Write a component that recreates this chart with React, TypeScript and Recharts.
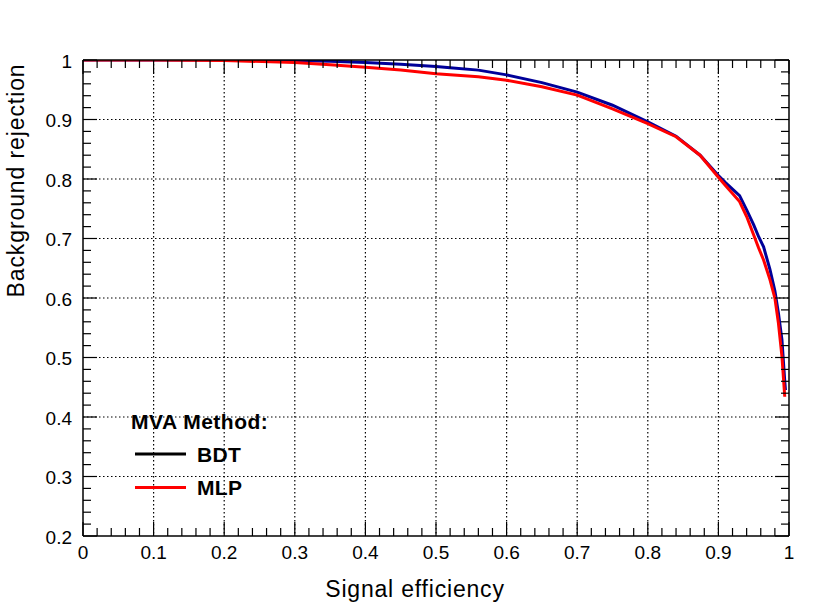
import React from "react";
import { LineChart, Line, XAxis, YAxis, CartesianGrid } from "recharts";

const W = 830;
const H = 609;
const FONT = "'Liberation Sans', Arial, Helvetica, sans-serif";

// Major tick values / labels
const xMajor = [0, 0.1, 0.2, 0.3, 0.4, 0.5, 0.6, 0.7, 0.8, 0.9, 1];
const yMajor = [0.2, 0.3, 0.4, 0.5, 0.6, 0.7, 0.8, 0.9, 1];
const xTickLabels = ["0", "0.1", "0.2", "0.3", "0.4", "0.5", "0.6", "0.7", "0.8", "0.9", "1"];
const yTickLabels = ["0.2", "0.3", "0.4", "0.5", "0.6", "0.7", "0.8", "0.9", "1"];

// BDT ROC curve
const bdtEff = [0, 0.1, 0.2, 0.3, 0.35, 0.4, 0.45, 0.5, 0.52, 0.56, 0.6, 0.65, 0.7, 0.75, 0.8, 0.84, 0.874, 0.9, 0.91, 0.93, 0.94, 0.95, 0.957, 0.964, 0.973, 0.98, 0.985, 0.99, 0.994, 0.995];
const bdtRej = [1, 1, 1, 0.999, 0.998, 0.996, 0.993, 0.989, 0.987, 0.983, 0.975, 0.962, 0.946, 0.924, 0.896, 0.872, 0.84, 0.806, 0.794, 0.772, 0.748, 0.723, 0.703, 0.686, 0.648, 0.612, 0.575, 0.53, 0.46, 0.445];

// MLP ROC curve
const mlpEff = [0, 0.1, 0.2, 0.3, 0.35, 0.4, 0.45, 0.5, 0.56, 0.6, 0.65, 0.7, 0.75, 0.8, 0.84, 0.874, 0.9, 0.91, 0.93, 0.94, 0.95, 0.957, 0.964, 0.973, 0.98, 0.985, 0.99, 0.994];
const mlpRej = [1, 1, 0.999, 0.996, 0.992, 0.988, 0.983, 0.977, 0.972, 0.966, 0.955, 0.941, 0.918, 0.893, 0.871, 0.84, 0.803, 0.789, 0.762, 0.737, 0.706, 0.684, 0.664, 0.631, 0.6, 0.558, 0.502, 0.434];

const bdtData = bdtEff.map((x, i) => ({ x, y: bdtRej[i] }));
const mlpData = mlpEff.map((x, i) => ({ x, y: mlpRej[i] }));

const r2 = (v: number) => Math.round(v * 1000) / 1000;
const xTicks: number[] = [];
for (let i = 0; i <= 50; i++) xTicks.push(r2(i * 0.02));
const yTicks: number[] = [];
for (let i = 10; i <= 50; i++) yTicks.push(r2(i * 0.02));

const isMajor = (v: number) => Math.abs(v * 10 - Math.round(v * 10)) < 1e-6;
const MAJ = 14;
const MIN = 8;

const labelFor = (v: number, majors: number[], labels: string[]) => {
  const i = majors.findIndex((m) => Math.abs(m - v) < 1e-6);
  return i >= 0 ? labels[i] : "";
};

const BottomTick = (p: any) => {
  const v = p.payload.value;
  const maj = isMajor(v);
  return (
    <g>
      <line x1={p.x} y1={p.y} x2={p.x} y2={p.y - (maj ? MAJ : MIN)} stroke="#000" strokeWidth={1.2} />
      {maj && (
        <text x={p.x} y={p.y + 23} textAnchor="middle" fontSize={19} fontFamily={FONT} fill="#000">
          {labelFor(v, xMajor, xTickLabels)}
        </text>
      )}
    </g>
  );
};

const TopTick = (p: any) => {
  const v = p.payload.value;
  const maj = isMajor(v);
  return <line x1={p.x} y1={p.y} x2={p.x} y2={p.y + (maj ? MAJ : MIN)} stroke="#000" strokeWidth={1.2} />;
};

const LeftTick = (p: any) => {
  const v = p.payload.value;
  const maj = isMajor(v);
  return (
    <g>
      <line x1={p.x} y1={p.y} x2={p.x + (maj ? MAJ : MIN)} y2={p.y} stroke="#000" strokeWidth={1.2} />
      {maj && (
        <text x={p.x - 11} y={p.y + 1} textAnchor="end" dominantBaseline="central" fontSize={19} fontFamily={FONT} fill="#000">
          {labelFor(v, yMajor, yTickLabels)}
        </text>
      )}
    </g>
  );
};

const RightTick = (p: any) => {
  const v = p.payload.value;
  const maj = isMajor(v);
  return <line x1={p.x} y1={p.y} x2={p.x - (maj ? MAJ : MIN)} y2={p.y} stroke="#000" strokeWidth={1.2} />;
};

const gridX = xMajor.filter((v) => v > 0 && v < 1);
const gridY = yMajor.filter((v) => v > 0.2 && v < 1);

export default function App() {
  return (
    <div style={{ position: "absolute", left: 0, top: 0, width: W, height: H, background: "#fff" }}>
      <LineChart width={W} height={H} margin={{ top: 30, right: 11, bottom: 43, left: 43 }}>
        <CartesianGrid
          xAxisId="b"
          yAxisId="l"
          verticalValues={gridX}
          horizontalValues={gridY}
          stroke="#000"
          strokeDasharray="1.5 2.5"
          strokeWidth={1.2}
        />
        <XAxis
          xAxisId="b"
          type="number"
          dataKey="x"
          domain={[0, 1]}
          ticks={xTicks}
          interval={0}
          height={30}
          tickSize={0}
          tickMargin={0}
          tick={BottomTick}
          axisLine={{ stroke: "#000", strokeWidth: 1.5 }}
          allowDataOverflow
        />
        <XAxis
          xAxisId="t"
          orientation="top"
          type="number"
          dataKey="x"
          domain={[0, 1]}
          ticks={xTicks}
          interval={0}
          height={30}
          tickSize={0}
          tickMargin={0}
          tick={TopTick}
          axisLine={{ stroke: "#000", strokeWidth: 1.5 }}
          allowDataOverflow
        />
        <YAxis
          yAxisId="l"
          type="number"
          domain={[0.2, 1]}
          ticks={yTicks}
          interval={0}
          width={40}
          tickSize={0}
          tickMargin={0}
          tick={LeftTick}
          axisLine={{ stroke: "#000", strokeWidth: 1.5 }}
          allowDataOverflow
        />
        <YAxis
          yAxisId="r"
          orientation="right"
          type="number"
          domain={[0.2, 1]}
          ticks={yTicks}
          interval={0}
          width={30}
          tickSize={0}
          tickMargin={0}
          tick={RightTick}
          axisLine={{ stroke: "#000", strokeWidth: 1.5 }}
          allowDataOverflow
        />
        <Line
          xAxisId="b"
          yAxisId="l"
          data={bdtData}
          dataKey="y"
          type="linear"
          stroke="#000099"
          strokeWidth={3}
          dot={false}
          activeDot={false}
          isAnimationActive={false}
        />
        <Line
          xAxisId="b"
          yAxisId="l"
          data={mlpData}
          dataKey="y"
          type="linear"
          stroke="#ff0000"
          strokeWidth={3}
          dot={false}
          activeDot={false}
          isAnimationActive={false}
        />
      </LineChart>
      <svg
        width={W}
        height={H}
        style={{ position: "absolute", left: 0, top: 0, pointerEvents: "none" }}
      >
        <text x={415} y={596.5} textAnchor="middle" fontSize={23} letterSpacing={0.8} fontFamily={FONT} fill="#000">
          Signal efficiency
        </text>
        <text
          transform="translate(24,180.5) rotate(-90)"
          textAnchor="middle"
          fontSize={23}
          letterSpacing={0.9}
          fontFamily={FONT}
          fill="#000"
        >
          Background rejection
        </text>
        <text x={131} y={428.5} fontSize={21} fontWeight="bold" letterSpacing={0.5} fontFamily={FONT} fill="#000">
          MVA Method:
        </text>
        <line x1={135} y1={454} x2={186} y2={454} stroke="#000" strokeWidth={3} />
        <text x={197} y={461.5} fontSize={21} fontWeight="bold" letterSpacing={0.3} fontFamily={FONT} fill="#000">
          BDT
        </text>
        <line x1={135} y1={487.5} x2={186} y2={487.5} stroke="#ff0000" strokeWidth={3} />
        <text x={197} y={495} fontSize={21} fontWeight="bold" letterSpacing={0.3} fontFamily={FONT} fill="#000">
          MLP
        </text>
      </svg>
    </div>
  );
}
